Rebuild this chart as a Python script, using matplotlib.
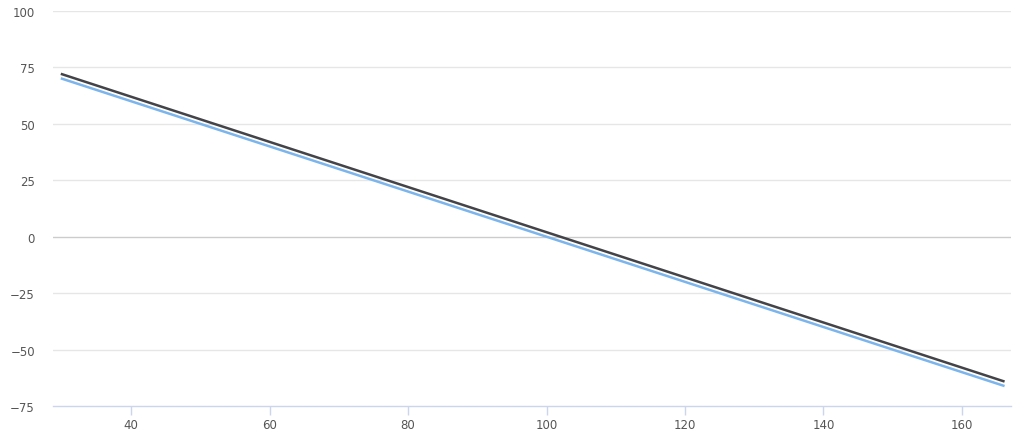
import matplotlib
matplotlib.use('Agg')
import matplotlib.pyplot as plt

# data
x_vals     = [30, 166]
dark_vals  = [72, -64]
blue_vals  = [70, -66]
x_ticks    = [40, 60, 80, 100, 120, 140, 160]
y_ticks    = [-75, -50, -25, 0, 25, 50, 75, 100]

fig = plt.figure(figsize=(10.24, 4.39), dpi=100)
ax = fig.add_axes([53/1024, (439-407)/439, (1011-53)/1024, (407-12)/439])

for y in y_ticks:
    if y == -75:
        continue
    ax.axhline(y, color='#cccccc' if y == 0 else '#e6e6e6', lw=1, zorder=0)

ax.plot(x_vals, blue_vals, color='#7cb5ec', lw=1.8, zorder=3)
ax.plot(x_vals, dark_vals, color='#434348', lw=1.8, zorder=3)

ax.set_xlim(28.7, 167.1)
ax.set_ylim(-75, 100)
ax.set_xticks(x_ticks)
ax.set_yticks(y_ticks)

for s in ['top', 'right', 'left']:
    ax.spines[s].set_visible(False)
ax.spines['bottom'].set_color('#ccd6eb')
ax.spines['bottom'].set_linewidth(1)

ax.tick_params(axis='x', colors='#ccd6eb', length=6.5, width=1, labelcolor='#555555',
               labelsize=8.5, pad=2.5)
ax.tick_params(axis='y', length=0, labelcolor='#555555', labelsize=8.5, pad=13)

fig.savefig('out.png', dpi=100)
